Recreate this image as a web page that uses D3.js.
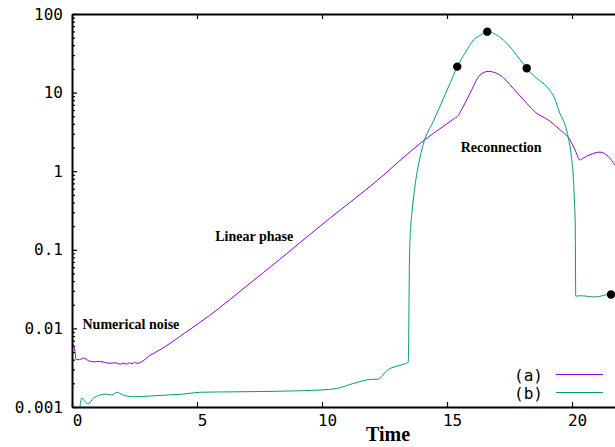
<!DOCTYPE html>
<html>
<head>
<meta charset="utf-8">
<script src="https://cdn.jsdelivr.net/npm/d3@7"></script>
<style>
  body { margin: 0; background: #fff; }
  svg { display: block; }
</style>
</head>
<body>
<svg id="chart" width="615" height="447"></svg>
<script>
// Series (a): energy vs time
const timeA = [0.03, 0.1, 0.17, 0.3, 0.47, 0.65, 0.85, 1.1, 1.3, 1.52, 1.75, 1.92, 2.05, 2.19, 2.3, 2.4, 2.5, 2.6, 2.75,
  3.1, 3.5, 4.0, 4.5, 5.0, 5.5, 6.3, 7.0, 8.3, 9.1, 10.3, 12.0, 14.1, 15.3, 15.45, 15.6, 15.92, 16.32, 16.65,
  17.12, 17.65, 18.19, 18.59, 19.0, 19.5, 19.92, 20.12, 20.32, 20.45, 20.72, 21.12, 21.45, 21.72, 22.0];
const energyA = [0.0064, 0.0055, 0.0040, 0.0040, 0.0042, 0.0039, 0.00375, 0.0038, 0.0037, 0.0036, 0.00365, 0.0035, 0.00362, 0.0035, 0.00365, 0.00355, 0.0037, 0.0036, 0.0037,
  0.0045, 0.0053, 0.0067, 0.0087, 0.0112, 0.0146, 0.023, 0.035, 0.075, 0.122, 0.25, 0.67, 2.5, 4.7, 5.1, 6.2, 9.8, 16.7, 18.6,
  16.7, 11.3, 7.3, 5.45, 4.6, 3.4, 2.5, 1.87, 1.39, 1.47, 1.62, 1.75, 1.54, 1.2, 0.95];

// Series (b): energy vs time
const timeB = [0.32, 0.39, 0.52, 0.65, 0.85, 1.12, 1.39, 1.59, 1.79, 2.05, 2.45, 3.13, 3.79, 4.45, 5.13,
  6.5, 8.0, 9.13, 10.0, 10.59, 11.25, 11.99, 12.21, 12.65, 13.12, 13.45, 13.5, 13.55, 13.6, 13.72, 13.88,
  14.05, 14.45, 14.72, 15.12, 15.41, 15.75, 16.06, 16.35, 16.61, 16.9, 17.39, 17.8, 18.19, 18.6, 18.99,
  19.3, 19.52, 19.72, 19.85, 19.99, 20.05, 20.1, 20.13, 20.15, 20.3, 20.59, 20.8, 20.99, 21.2, 21.39, 21.56, 21.8, 22.0];
const energyB = [0.001, 0.00131, 0.00117, 0.0011, 0.00129, 0.00142, 0.00146, 0.00142, 0.00154, 0.00142, 0.00135, 0.00138, 0.00142, 0.00146, 0.00154,
  0.00156, 0.00158, 0.00161, 0.00165, 0.00172, 0.00199, 0.00225, 0.00225, 0.0030, 0.0034, 0.0037, 0.08, 0.2, 0.3, 0.65, 1.3,
  2.2, 4.3, 6.7, 13.1, 21.4, 33, 46.7, 54, 59.6, 56, 42.4, 29.5, 20.4, 15.1, 11.9,
  8.5, 5.4, 3.9, 2.7, 1.4, 0.86, 0.4, 0.2, 0.0257, 0.026, 0.0257, 0.0252, 0.0252, 0.026, 0.0269, 0.027, 0.027, 0.027];

// Marked samples on series (b)
const dotTimes = [15.41, 16.61, 18.19, 21.56];
const dotValues = [21.4, 59.6, 20.4, 0.027];

// Axis ticks and labels
const xTicks = [0, 5, 10, 15, 20];
const yTicks = [0.001, 0.01, 0.1, 1, 10, 100];
const yTickLabels = ["0.001", "0.01", "0.1", "1", "10", "100"];
const seriesLabels = ["(a)", "(b)"];
const seriesColors = ["#9400d3", "#009e73"];
const notes = [
  { text: "Numerical noise", t: 0.42, v: 0.0099 },
  { text: "Linear phase", t: 5.73, v: 0.131 },
  { text: "Reconnection", t: 15.55, v: 1.78 }
];

const svg = d3.select("#chart");
const plotLeft = 72, plotRight = 622, plotTop = 14, plotBottom = 407;

const x = d3.scaleLinear().domain([0, 22]).range([plotLeft, plotRight]);
const y = d3.scaleLog().domain([0.001, 100]).range([plotBottom, plotTop]);

svg.append("defs").append("clipPath").attr("id", "plot")
  .append("rect").attr("x", plotLeft).attr("y", plotTop)
  .attr("width", plotRight - plotLeft).attr("height", plotBottom - plotTop);

const monoFont = "'DejaVu Sans Mono', monospace";
const serifFont = "'Liberation Serif', 'Times New Roman', serif";

// Curves
const line = d3.line()
  .x(d => x(d[0]))
  .y(d => y(d[1]))
  .curve(d3.curveMonotoneX);

const dataA = timeA.map((t, i) => [t, energyA[i]]);
const dataB = timeB.map((t, i) => [t, energyB[i]]);

const plot = svg.append("g").attr("clip-path", "url(#plot)");
plot.append("path").datum(dataA)
  .attr("d", line).attr("fill", "none")
  .attr("stroke", seriesColors[0]).attr("stroke-width", 1);
plot.append("path").datum(dataB)
  .attr("d", line).attr("fill", "none")
  .attr("stroke", seriesColors[1]).attr("stroke-width", 1);

svg.append("g").selectAll("circle")
  .data(dotTimes.map((t, i) => [t, dotValues[i]]))
  .join("circle")
  .attr("cx", d => x(d[0])).attr("cy", d => y(d[1]))
  .attr("r", 4.2).attr("fill", "#000");

// Axes: inward ticks, mirrored on top
const minorY = [];
[0.001, 0.01, 0.1, 1, 10].forEach(dec => {
  for (let k = 2; k <= 9; k++) minorY.push(dec * k);
});

const styleAxis = g => {
  g.select(".domain").attr("stroke", "#000").attr("stroke-width", 2);
  g.selectAll(".tick line").attr("stroke", "#000").attr("stroke-width", 1.2);
  g.selectAll(".tick text").attr("fill", "#000")
    .style("font-family", monoFont).style("font-size", "16px");
};

svg.append("g")
  .attr("transform", `translate(0,${plotBottom})`)
  .call(d3.axisBottom(x).tickValues(xTicks).tickSize(-5).tickSizeOuter(0).tickPadding(8)
    .tickFormat(d3.format("d")))
  .call(styleAxis)
  .call(g => g.selectAll(".tick text").attr("dx", 5));

svg.append("g")
  .attr("transform", `translate(0,${plotTop})`)
  .call(d3.axisTop(x).tickValues(xTicks).tickSize(-5).tickSizeOuter(0).tickFormat(""))
  .call(styleAxis);

svg.append("g")
  .attr("transform", `translate(${plotLeft},0)`)
  .call(d3.axisLeft(y).tickValues(yTicks).tickSize(-5).tickSizeOuter(0).tickPadding(9)
    .tickFormat((d, i) => yTickLabels[i]))
  .call(styleAxis);

svg.append("g")
  .attr("transform", `translate(${plotLeft},0)`)
  .call(d3.axisLeft(y).tickValues(minorY).tickSize(-3).tickSizeOuter(0).tickFormat(""))
  .call(styleAxis)
  .call(g => g.select(".domain").remove());

// Axis title
svg.append("text")
  .attr("x", 388).attr("y", 441)
  .attr("text-anchor", "middle")
  .style("font-family", serifFont).style("font-weight", "bold").style("font-size", "20px")
  .text("Time");

// Annotations
svg.append("g").selectAll("text")
  .data(notes).join("text")
  .attr("x", d => x(d.t)).attr("y", d => y(d.v))
  .style("font-family", serifFont).style("font-weight", "bold").style("font-size", "14px")
  .text(d => d.text);

// Legend
const legend = svg.append("g");
seriesLabels.forEach((label, i) => {
  const ly = 375 + i * 18;
  legend.append("text")
    .attr("x", 543).attr("y", ly)
    .attr("text-anchor", "end").attr("dominant-baseline", "central")
    .style("font-family", monoFont).style("font-size", "16px")
    .text(label);
  legend.append("line")
    .attr("x1", 556).attr("x2", 603).attr("y1", ly - 0.5).attr("y2", ly - 0.5)
    .attr("stroke", seriesColors[i]).attr("stroke-width", 1);
});
</script>
</body>
</html>
